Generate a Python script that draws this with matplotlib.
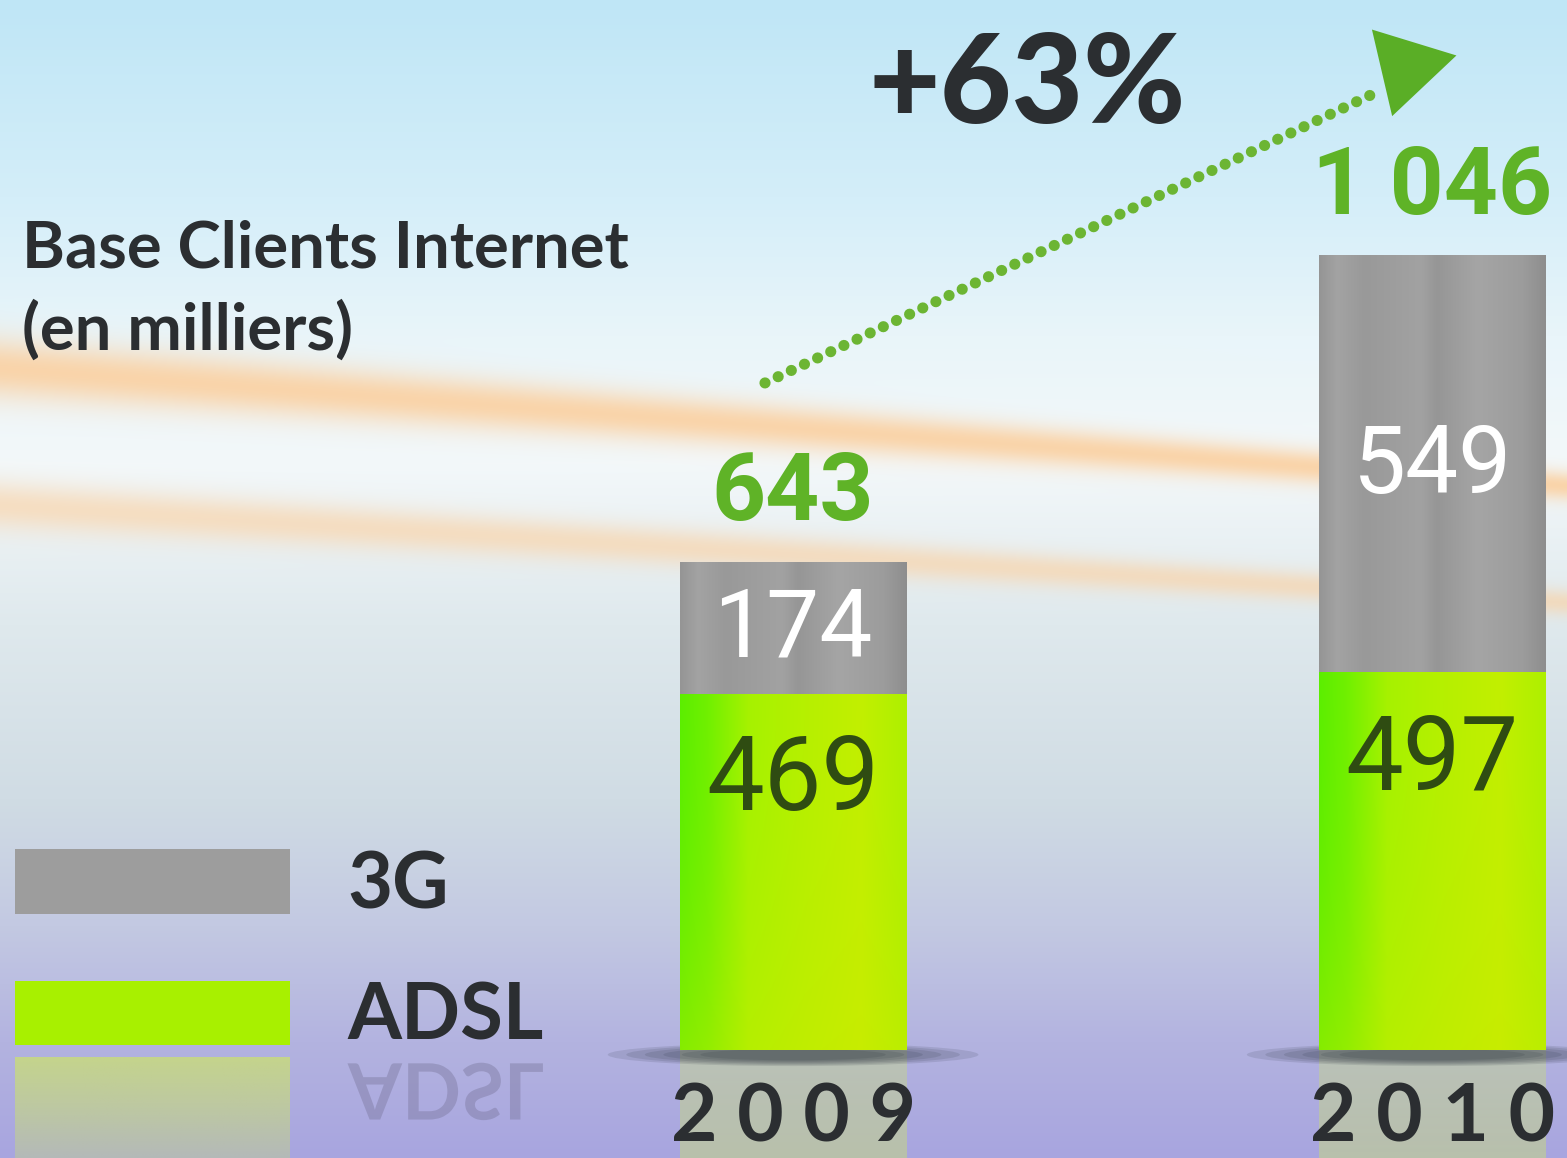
import numpy as np
import matplotlib
matplotlib.use("Agg")
import matplotlib.pyplot as plt
from matplotlib.colors import to_rgb
from matplotlib.patches import Ellipse, PathPatch
from matplotlib.textpath import TextPath
from matplotlib.font_manager import FontProperties
from matplotlib.transforms import Affine2D

# data (milliers de clients)
years = ["2009", "2010"]
adsl = [469, 497]
g3 = [174, 549]
totals = [643, 1046]
growth = "+63%"
title_lines = ["Base Clients Internet", "(en milliers)"]
series_names = ["3G", "ADSL"]

W, H = 1567, 1158
DARK = "#2b2e31"
GREEN_TXT = "#5fb327"
GREEN_DOT = "#6cb533"
TITLE_FONT = ["Lato", "DejaVu Sans"]
NUM_FONT = ["Liberation Sans Narrow", "Roboto", "DejaVu Sans"]
BOLD_NUM_FONT = ["Roboto", "DejaVu Sans"]


def gradient(stops, n=200):
    pos = [s[0] for s in stops]
    cols = np.array([to_rgb(s[1]) for s in stops])
    t = np.linspace(0, 1, n)
    return np.stack([np.interp(t, pos, cols[:, i]) for i in range(3)], axis=-1)


fig = plt.figure(figsize=(W / 100, H / 100), dpi=100)

# background: sky, orange streaks, lavender floor
bg_ax = fig.add_axes([0, 0, 1, 1])
bg_ax.set_axis_off()
yy = np.arange(H, dtype=float)[:, None]
xx = np.arange(W, dtype=float)[None, :]
sky = gradient([(0.0, "#bfe6f6"), (0.17, "#d4eef9"), (0.29, "#e9f5fa"), (0.40, "#f3f8fa"),
                (0.54, "#dfe9ed"), (0.69, "#d0dce4"), (0.80, "#c3c9e2"), (0.90, "#b3b3e0"),
                (1.0, "#a8a5df")], n=H)
bg = np.repeat(sky[:, None, :], W, axis=1)
orange = np.array(to_rgb("#fbd0a0"))
a1 = 0.88 * np.exp(-((yy - (368 + 0.075 * xx)) / (30 - 0.01 * xx)) ** 2)
a2 = 0.6 * np.exp(-((yy - (505 + 0.062 * xx)) / (24 - 0.007 * xx)) ** 2)
for a in (a1, a2):
    bg = bg * (1 - a[..., None]) + orange * a[..., None]
bg_ax.imshow(bg, aspect="auto", extent=[0, W, H, 0])
bg_ax.set_xlim(0, W)
bg_ax.set_ylim(H, 0)

ax = fig.add_axes([0, 0, 1, 1])
ax.set_axis_off()
ax.patch.set_alpha(0)

x = np.arange(len(years))
width = 0.355

adsl_bars = ax.bar(x, adsl, width=width, color="#a8f000", zorder=3)
g3_bars = ax.bar(x, g3, bottom=adsl, width=width, color="#9d9d9d", zorder=3)

# gradient fill clipped to each bar
green_row = gradient([(0, "#5cee00"), (0.12, "#70f000"), (0.3, "#a6f200"), (0.55, "#b6f000"),
                      (0.8, "#c2ef00"), (1, "#aef000")])
vert = np.linspace(0, 1, 120)[:, None, None] ** 2
green_img = green_row[None, :, :] * (1 - 0.35 * vert) + np.array(to_rgb("#d2e800")) * 0.35 * vert
gray_row = gradient([(0, "#959595"), (0.08, "#a3a3a3"), (0.2, "#999999"), (0.45, "#a2a2a2"),
                     (0.52, "#969696"), (0.7, "#a5a5a5"), (0.9, "#9c9c9c"), (1, "#8e8e8e")])
gray_img = np.repeat(gray_row[None, :, :], 20, axis=0)
for bars, img in ((adsl_bars, green_img), (g3_bars, gray_img)):
    for p in bars:
        bb = p.get_bbox()
        im = ax.imshow(img, extent=[bb.x0, bb.x1, bb.y0, bb.y1], aspect="auto", zorder=3.5)
        im.set_clip_path(p)

# floor shadow and reflection (fading downward)
for xi in x:
    for f in (1.0, 0.9, 0.8, 0.7, 0.6, 0.5):
        ax.add_patch(Ellipse((xi, -6), width=0.58 * f, height=30 * f, color="#1e2833",
                             alpha=0.12, lw=0, zorder=2))
refl = ax.bar(x, -np.array(adsl), width=width, color="none", zorder=1)
fade = np.zeros((100, 2, 4))
fade[..., :3] = to_rgb("#cbe070")
fade[..., 3] = np.linspace(0.75, 0.35, 100)[:, None]
for p in refl:
    bb = p.get_bbox()
    im = ax.imshow(fade, extent=[bb.x0, bb.x1, bb.y0, bb.y1], aspect="auto", zorder=1)
    im.set_clip_path(p)

# labels
for xi, a, g, t in zip(x, adsl, g3, totals):
    ax.annotate(f"{t:,}".replace(",", " "), (xi, t), xytext=(0, 30), textcoords="offset points",
                ha="center", va="baseline", fontsize=68, fontweight="bold",
                color=GREEN_TXT, family=BOLD_NUM_FONT, zorder=6)
    ax.annotate(str(g), (xi, a + g / 2), xytext=(0, -21), textcoords="offset points",
                ha="center", va="baseline", fontsize=68, color="white",
                family=NUM_FONT, zorder=6)
    ax.annotate(str(a), (xi, a), xytext=(0, -84), textcoords="offset points",
                ha="center", va="baseline", fontsize=74, color="#2f4c12",
                family=NUM_FONT, zorder=6)

for xi, yr in zip(x, years):
    ax.text(xi, -120, " ".join(yr), ha="center", va="baseline", fontsize=58,
            fontweight="bold", color=DARK, family=TITLE_FONT, zorder=6)

# growth arrow
arrow_from = (x[0] - 0.044, totals[0] + 235)
arrow_mid = (x[1] - 0.081, totals[1] + 217)
head_from = (x[1] - 0.130, totals[1] + 230)
arrow_tip = (x[1] + 0.038, totals[1] + 263)
ax.plot([arrow_from[0], arrow_mid[0]], [arrow_from[1], arrow_mid[1]], color=GREEN_DOT, lw=8,
        linestyle=(0, (0.01, 1.3)), dash_capstyle="round", zorder=4)
ax.annotate("", xy=arrow_tip, xytext=head_from,
            arrowprops=dict(arrowstyle="-|>,head_length=1.1,head_width=0.64", mutation_scale=50,
                            lw=0, color="#5aae26", shrinkA=0, shrinkB=0), zorder=4)

fig.text(868 / W, 1 - 123 / H, growth, ha="left", va="baseline", fontsize=89,
         fontweight="black", color=DARK, family=TITLE_FONT)
fig.text(22 / W, 1 - 268 / H, title_lines[0], ha="left", va="baseline", fontsize=47,
         fontweight="bold", color=DARK, family=TITLE_FONT)
fig.text(22 / W, 1 - 350 / H, title_lines[1], ha="left", va="baseline", fontsize=47,
         fontweight="bold", color=DARK, family=TITLE_FONT)

leg = ax.legend([g3_bars, adsl_bars], series_names, loc="lower left",
                bbox_to_anchor=(15 / W, 104 / H), bbox_transform=fig.transFigure,
                frameon=False, borderpad=0, borderaxespad=0,
                prop=dict(family=TITLE_FONT, weight="bold", size=56),
                handlelength=3.53, handleheight=0.9, handletextpad=0.75, labelspacing=0.75)
for t in leg.get_texts():
    t.set_color(DARK)

ax.set_xlim(-1.241, 1.211)
ax.set_ylim(-142, 1382)

# mirrored legend entry on the floor
fig.canvas.draw()
renderer = fig.canvas.get_renderer()
floor = ax.transData.transform((0, 0))[1]
hb = leg.get_patches()[1].get_window_extent(renderer)
fade_ax = fig.add_axes([hb.x0 / W, 0, hb.width / W, (hb.y0 - 12) / H], zorder=0.5)
fade_ax.set_axis_off()
fade_ax.imshow(fade, aspect="auto", extent=[0, 1, 0, 1])
tb = leg.get_texts()[1].get_window_extent(renderer)
fp = FontProperties(family="Lato", weight="bold", size=56)
tp = TextPath((0, 0), series_names[1], size=56, prop=fp)
k = fig.dpi / 72
base = tb.y0 + 0.22 * 56 * k
tr = Affine2D().scale(k, -k).translate(tb.x0, 2 * floor - base)
fig.add_artist(PathPatch(tr.transform_path(tp), transform=None, color="#6e6a8c",
                         alpha=0.35, lw=0, zorder=0.6))

fig.savefig("out.png", dpi=100)
